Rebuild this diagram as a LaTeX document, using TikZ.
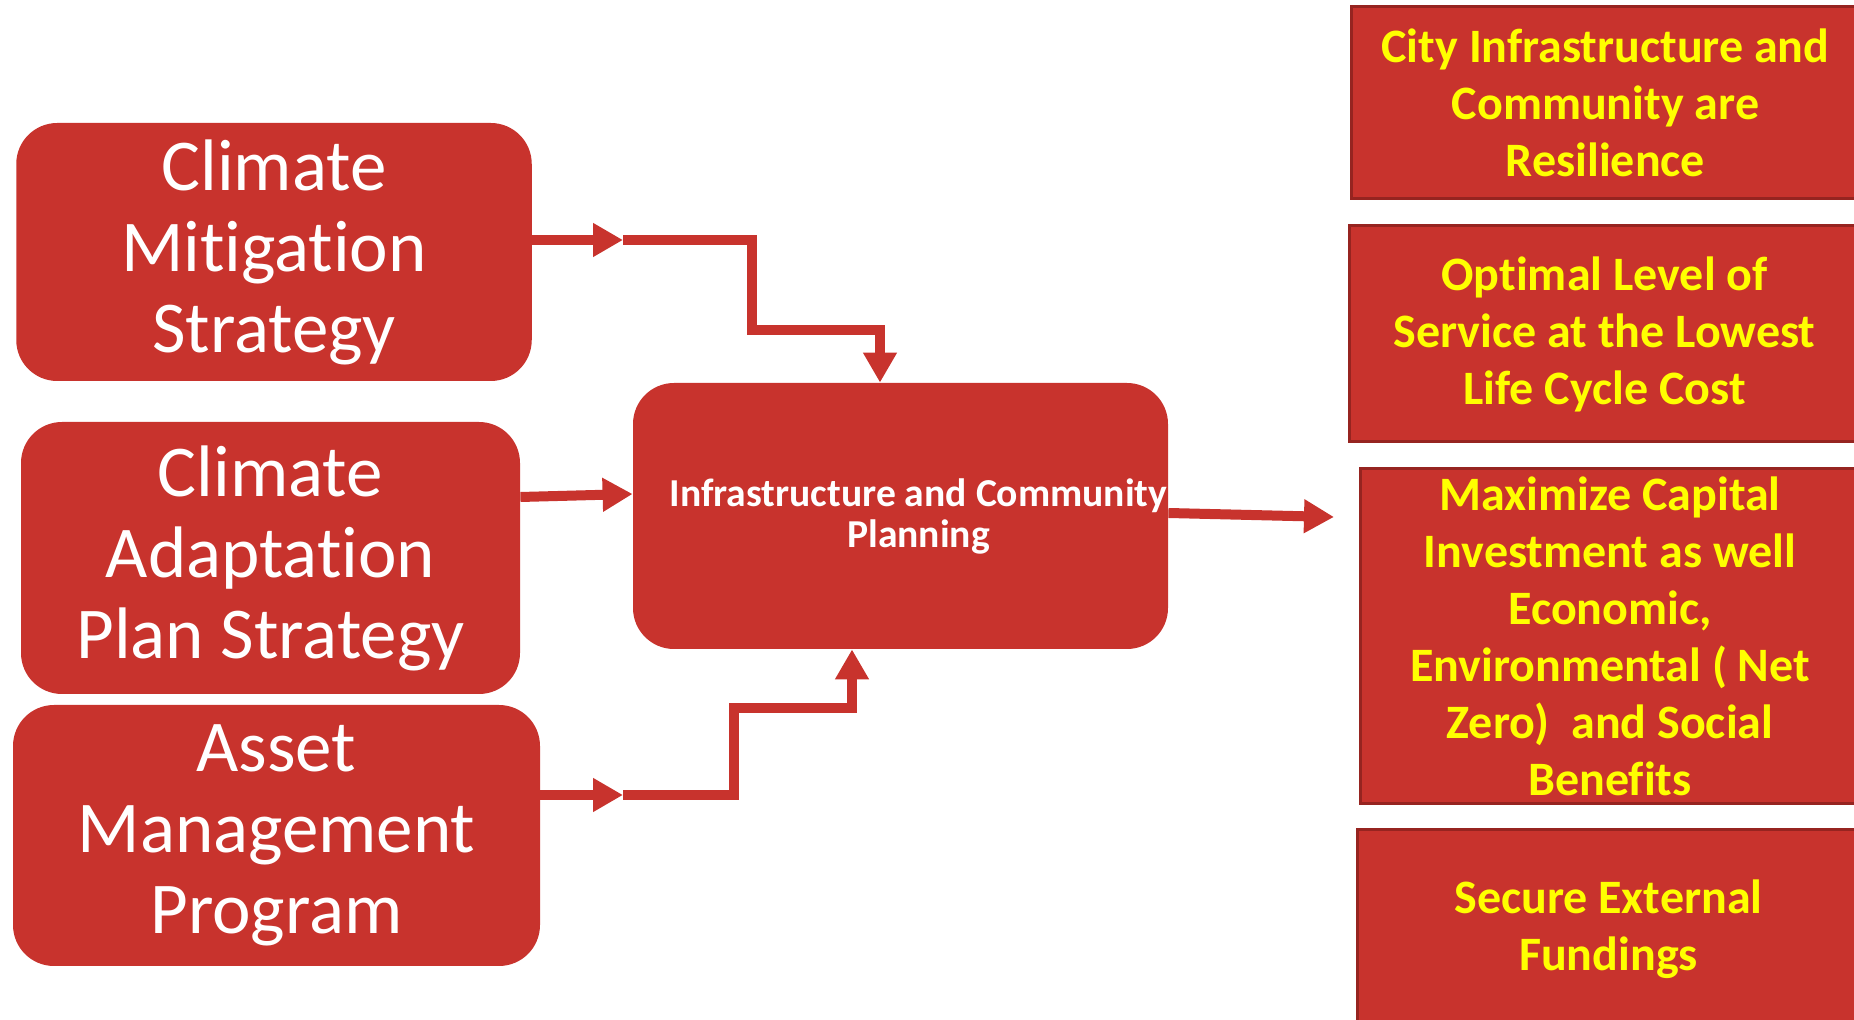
\documentclass[tikz,border=0pt]{standalone}
\usepackage{fontspec}
\setmainfont{Carlito}[Ligatures=NoCommon]
\usetikzlibrary{arrows.meta}
\definecolor{boxred}{RGB}{200,51,45}
\definecolor{edgered}{RGB}{150,36,32}
\definecolor{goalyellow}{RGB}{255,255,0}

\begin{document}
\begin{tikzpicture}[x=0.5pt,y=0.5pt,yscale=-1,xscale=1,
  srcbox/.style={fill=boxred, rounded corners=20.5pt, inner sep=0pt, align=center, text=white, font=\fontsize{36.5pt}{40.5pt}\selectfont},
  hubbox/.style={fill=boxred, rounded corners=20.5pt, inner sep=0pt, align=center, text=white, font=\bfseries\fontsize{19.8pt}{20.5pt}\selectfont},
  goalbox/.style={fill=boxred, draw=edgered, line width=1.5pt, inner sep=0pt, align=center, text=goalyellow, font=\bfseries\fontsize{24pt}{28.5pt}\selectfont},
  flow/.style={draw=boxred, line width=5pt, -{Triangle[length=15pt,width=16pt]}}]
\useasboundingbox (0,0) rectangle (1854,1020);

%Shape: Rounded Rectangle [climate mitigation]
\node[srcbox, minimum width=257.75pt, minimum height=129pt] (cms) at (274,252) {Climate\\Mitigation\\Strategy};
%Shape: Rounded Rectangle [climate adaptation]
\node[srcbox, minimum width=249.5pt, minimum height=136pt] (cap) at (270.5,558) {Climate\\Adaptation\\Plan Strategy};
%Shape: Rounded Rectangle [asset management]
\node[srcbox, minimum width=263.5pt, minimum height=130.5pt] (amp) at (276.5,835.5) {Asset\\Management\\Program};

%Shape: Rounded Rectangle [planning]
\node[hubbox, minimum width=267.5pt, minimum height=133pt,
  label={[hubbox, fill=none, xshift=9pt]center:Infrastructure and Community\\Planning}] (icp) at (900.5,516) {};

%Shape: Rectangle [outcomes]
\node[goalbox, minimum width=254.5pt, minimum height=96pt] (res) at (1605.5,103) {City Infrastructure and\\Community are\\Resilience};
%Shape: Rectangle
\node[goalbox, minimum width=255.5pt, minimum height=108pt] (los) at (1604.5,334) {Optimal Level of\\Service at the Lowest\\Life Cycle Cost};
%Shape: Rectangle
\node[goalbox, minimum width=250pt, minimum height=167.5pt] (cap2) at (1610,636.5) {Maximize Capital\\Investment as well\\Economic,\\Environmental ( Net\\Zero)~ and Social\\Benefits};
%Shape: Rectangle
\node[goalbox, minimum width=251.5pt, minimum height=99pt] (fund) at (1608.5,929) {Secure External\\Fundings};

% Connectors
\coordinate (j1) at (623,240);
\coordinate (k1) at (880,330);
\coordinate (j3) at (623,795);
\coordinate (k3) at (852,708);
\coordinate (out) at (1334,517);

\draw[flow] (cms.east |- j1) -- (j1);
\draw[flow] (j1) -- (752,240) -- (752,330) -- (k1) -- (icp.north -| k1);
\draw[flow] ([yshift=-30.5pt]cap.east) -- ([yshift=-11pt]icp.west);
\draw[flow] (amp.east |- j3) -- (j3);
\draw[flow] (j3) -- (734,795) -- (734,708) -- (k3) -- (icp.south -| k3);
\draw[flow] ([yshift=-1.5pt]icp.east) -- (out);

\end{tikzpicture}
\end{document}
